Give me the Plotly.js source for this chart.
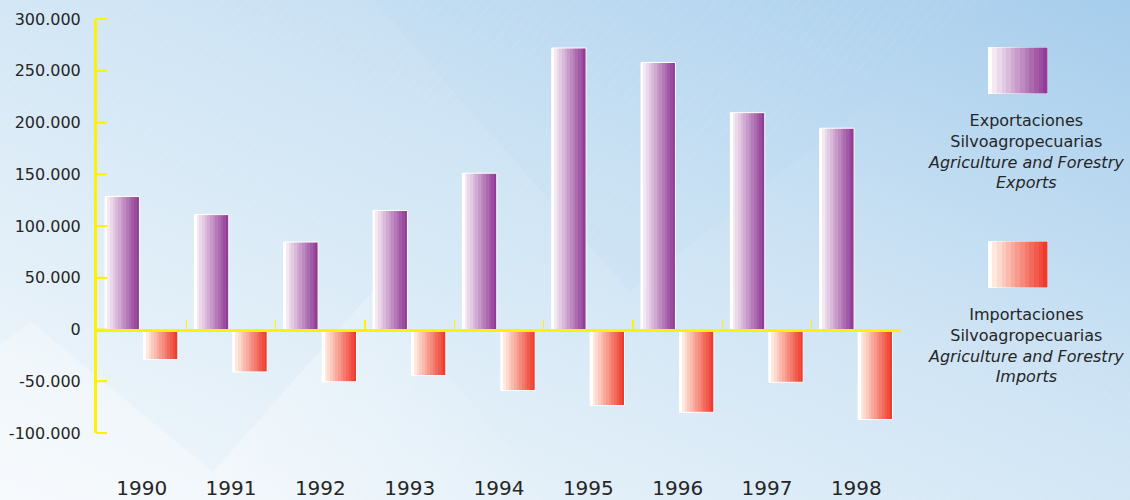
<!DOCTYPE html>
<html>
<head>
<meta charset="utf-8">
<script src="https://cdn.plot.ly/plotly-3.0.1.min.js"></script>
<style>
  html, body { margin: 0; padding: 0; }
  #chart { width: 1130px; height: 500px; }
</style>
</head>
<body>
<div id="chart"></div>
<script>
// ---- data ----
const years = ["1990", "1991", "1992", "1993", "1994", "1995", "1996", "1997", "1998"];
const exportsValues = [128500, 111000, 84500, 115000, 151000, 272000, 258000, 209500, 194500];
const importsValues = [-29000, -41000, -50500, -44500, -59000, -73500, -80000, -51000, -87000];
const yTickVals = [-100000, -50000, 0, 50000, 100000, 150000, 200000, 250000, 300000];
const yTickText = ["-100.000", "-50.000", "0", "50.000", "100.000", "150.000", "200.000", "250.000", "300.000"];
const exportLabel = "Exportaciones<br>Silvoagropecuarias<br><i>Agriculture and Forestry</i><br><i>Exports</i>";
const importLabel = "Importaciones<br>Silvoagropecuarias<br><i>Agriculture and Forestry</i><br><i>Imports</i>";

// ---- styling helpers ----
const YELLOW = "#fff200";
const TXT = "#262626";
const FONT = "DejaVu Sans, Arial, sans-serif";

function hex(c){return [parseInt(c.slice(1,3),16),parseInt(c.slice(3,5),16),parseInt(c.slice(5,7),16)];}
function mix(a,b,t){const A=hex(a),B=hex(b);return "rgb("+A.map((v,i)=>Math.round(v+(B[i]-v)*t)).join(",")+")";}
function stepStops(c0, c1, n){
  let s = '<stop offset="0" stop-color="#ffffff"/><stop offset="0.07" stop-color="#ffffff"/>';
  for (let i=0;i<n;i++){
    const a = 0.07 + (0.93*i/n), b = 0.07 + (0.93*(i+1)/n);
    const col = mix(c0,c1,i/(n-1));
    s += '<stop offset="'+a.toFixed(4)+'" stop-color="'+col+'"/><stop offset="'+b.toFixed(4)+'" stop-color="'+col+'"/>';
  }
  return s;
}
const EXP0 = "#f4e9f3", EXP1 = "#913c96";
const IMP0 = "#ffe9de", IMP1 = "#ee3b2c";

function swatchSVG(c0,c1){
  const svg = '<svg xmlns="http://www.w3.org/2000/svg" width="60" height="47" viewBox="0 0 60 47" preserveAspectRatio="none">'+
    '<defs><linearGradient id="g" x1="0" y1="0" x2="1" y2="0">'+stepStops(c0,c1,12)+'</linearGradient></defs>'+
    '<rect x="0" y="0" width="60" height="47" fill="url(#g)" stroke="#ffffff" stroke-width="1"/></svg>';
  return "data:image/svg+xml;charset=utf-8," + encodeURIComponent(svg);
}

// background decoration (not data)
const bgSVG = '<svg xmlns="http://www.w3.org/2000/svg" width="1130" height="500">'+
  '<defs>'+
  '<linearGradient id="bg" x1="0" y1="1" x2="1" y2="0">'+
    '<stop offset="0" stop-color="#f3f8fc"/><stop offset="0.3" stop-color="#e0eef8"/>'+
    '<stop offset="0.6" stop-color="#cde3f4"/><stop offset="1" stop-color="#a6cdec"/></linearGradient>'+
  '<linearGradient id="fade" x1="0" y1="0" x2="1" y2="0">'+
    '<stop offset="0" stop-color="#ffffff" stop-opacity="0.35"/><stop offset="1" stop-color="#ffffff" stop-opacity="0"/></linearGradient>'+
  '<pattern id="h1" width="9" height="9" patternUnits="userSpaceOnUse" patternTransform="rotate(40)">'+
    '<line x1="0" y1="0" x2="0" y2="9" stroke="#ffffff" stroke-width="0.7"/></pattern>'+
  '<pattern id="h2" width="9" height="9" patternUnits="userSpaceOnUse" patternTransform="rotate(-40)">'+
    '<line x1="0" y1="0" x2="0" y2="9" stroke="#ffffff" stroke-width="0.7"/></pattern>'+
  '</defs>'+
  '<rect width="1130" height="500" fill="url(#bg)"/>'+
  '<polygon points="0,345 31,322 213,472 240,500 0,500" fill="#ffffff" opacity="0.32"/>'+
  '<polygon points="213,472 372,292 560,500 240,500" fill="url(#fade)"/>'+
  '<polygon points="373,0 630,292 1000,0" fill="#b3d5ef" opacity="0.15"/>'+
  '<polygon points="0,0 990,0 600,250 0,250" fill="url(#h1)" opacity="0.22"/>'+
  '<polygon points="0,345 31,322 213,472 372,292 1130,330 1130,500 0,500" fill="url(#h2)" opacity="0.18"/>'+
  '</svg>';
document.getElementById("chart").style.background = 'url("data:image/svg+xml;charset=utf-8,' + encodeURIComponent(bgSVG) + '")';

// ---- traces ----
const traceExports = {
  type: "bar", x: years, y: exportsValues, xaxis: "x", yaxis: "y",
  offset: -0.41, width: 0.385,
  marker: { color: EXP1, line: { color: "#ffffff", width: 1 } },
  hoverinfo: "x+y", showlegend: false
};
const traceImports = {
  type: "bar", x: years, y: importsValues, xaxis: "x2", yaxis: "y",
  offset: 0.02, width: 0.385,
  marker: { color: IMP1, line: { color: "#ffffff", width: 1 } },
  hoverinfo: "x+y", showlegend: false
};

const PL = 97, PR = 229, PT = 19, PB = 67;
const pw = 1130 - PL - PR, ph = 500 - PT - PB;
const px = v => (v - PL) / pw;
const py = v => (500 - PB - v) / ph;

const layout = {
  width: 1130, height: 500,
  margin: { l: PL, r: PR, t: PT, b: PB, pad: 0 },
  paper_bgcolor: "rgba(0,0,0,0)",
  plot_bgcolor: "rgba(0,0,0,0)",
  showlegend: false,
  xaxis: {
    type: "category", showgrid: false, zeroline: false, showline: false,
    ticks: "", ticklabelstandoff: 41,
    tickfont: { family: FONT, size: 20, color: TXT },
    fixedrange: true
  },
  xaxis2: {
    type: "category", matches: "x", overlaying: "x", anchor: "free", position: 0.249,
    side: "bottom", showgrid: false, zeroline: false,
    showline: true, linecolor: YELLOW, linewidth: 3,
    ticks: "inside", tickson: "boundaries", ticklen: 9, tickwidth: 1.5, tickcolor: YELLOW,
    showticklabels: false, layer: "above traces", fixedrange: true
  },
  yaxis: {
    range: [-100000, 300000], tickmode: "array", tickvals: yTickVals, ticktext: yTickText,
    showgrid: false, zeroline: false,
    showline: true, linecolor: YELLOW, linewidth: 3,
    ticks: "inside", ticklen: 10, tickwidth: 2, tickcolor: YELLOW,
    tickfont: { family: FONT, size: 16, color: TXT },
    ticklabelstandoff: 10, fixedrange: true
  },
  images: [
    { source: swatchSVG(EXP0, EXP1), xref: "paper", yref: "paper",
      x: px(988), y: py(47), sizex: 60 / pw, sizey: 47 / ph, sizing: "stretch",
      xanchor: "left", yanchor: "top", layer: "above" },
    { source: swatchSVG(IMP0, IMP1), xref: "paper", yref: "paper",
      x: px(988), y: py(241), sizex: 60 / pw, sizey: 47 / ph, sizing: "stretch",
      xanchor: "left", yanchor: "top", layer: "above" }
  ],
  annotations: [
    { text: exportLabel, xref: "paper", yref: "paper", x: px(1026), y: py(151),
      xanchor: "center", yanchor: "middle", align: "center", showarrow: false,
      font: { family: FONT, size: 16, color: TXT } },
    { text: importLabel, xref: "paper", yref: "paper", x: px(1026), y: py(345),
      xanchor: "center", yanchor: "middle", align: "center", showarrow: false,
      font: { family: FONT, size: 16, color: TXT } }
  ]
};

const gd = document.getElementById("chart");
Plotly.newPlot(gd, [traceExports, traceImports], layout, { displayModeBar: false, staticPlot: true }).then(() => {
  const svg = gd.querySelector("svg.main-svg");
  let defs = svg.querySelector("defs");
  const NS = "http://www.w3.org/2000/svg";
  function addGrad(id, c0, c1){
    const g = document.createElementNS(NS, "linearGradient");
    g.setAttribute("id", id); g.setAttribute("x1","0"); g.setAttribute("y1","0"); g.setAttribute("x2","1"); g.setAttribute("y2","0");
    g.innerHTML = stepStops(c0, c1, 12);
    defs.appendChild(g);
  }
  addGrad("gradExp", EXP0, EXP1);
  addGrad("gradImp", IMP0, IMP1);
  const groups = gd.querySelectorAll(".trace.bars");
  const ids = ["gradExp", "gradImp"];
  groups.forEach((grp, i) => {
    grp.querySelectorAll("path").forEach(p => { p.style.fill = "url(#" + ids[i] + ")"; });
  });
  // y-axis tick stubs placed with the axis' own scale
  const ya = gd._fullLayout.yaxis, xa = gd._fullLayout.xaxis;
  const g = document.createElementNS(NS, "g");
  yTickVals.forEach(v => {
    const yy = ya._offset + ya.l2p(v);
    const ln = document.createElementNS(NS, "rect");
    ln.setAttribute("x", xa._offset - 1);
    ln.setAttribute("y", yy - 1);
    ln.setAttribute("width", 11);
    ln.setAttribute("height", 2);
    ln.setAttribute("fill", YELLOW);
    g.appendChild(ln);
  });
  svg.appendChild(g);
});
</script>
</body>
</html>
